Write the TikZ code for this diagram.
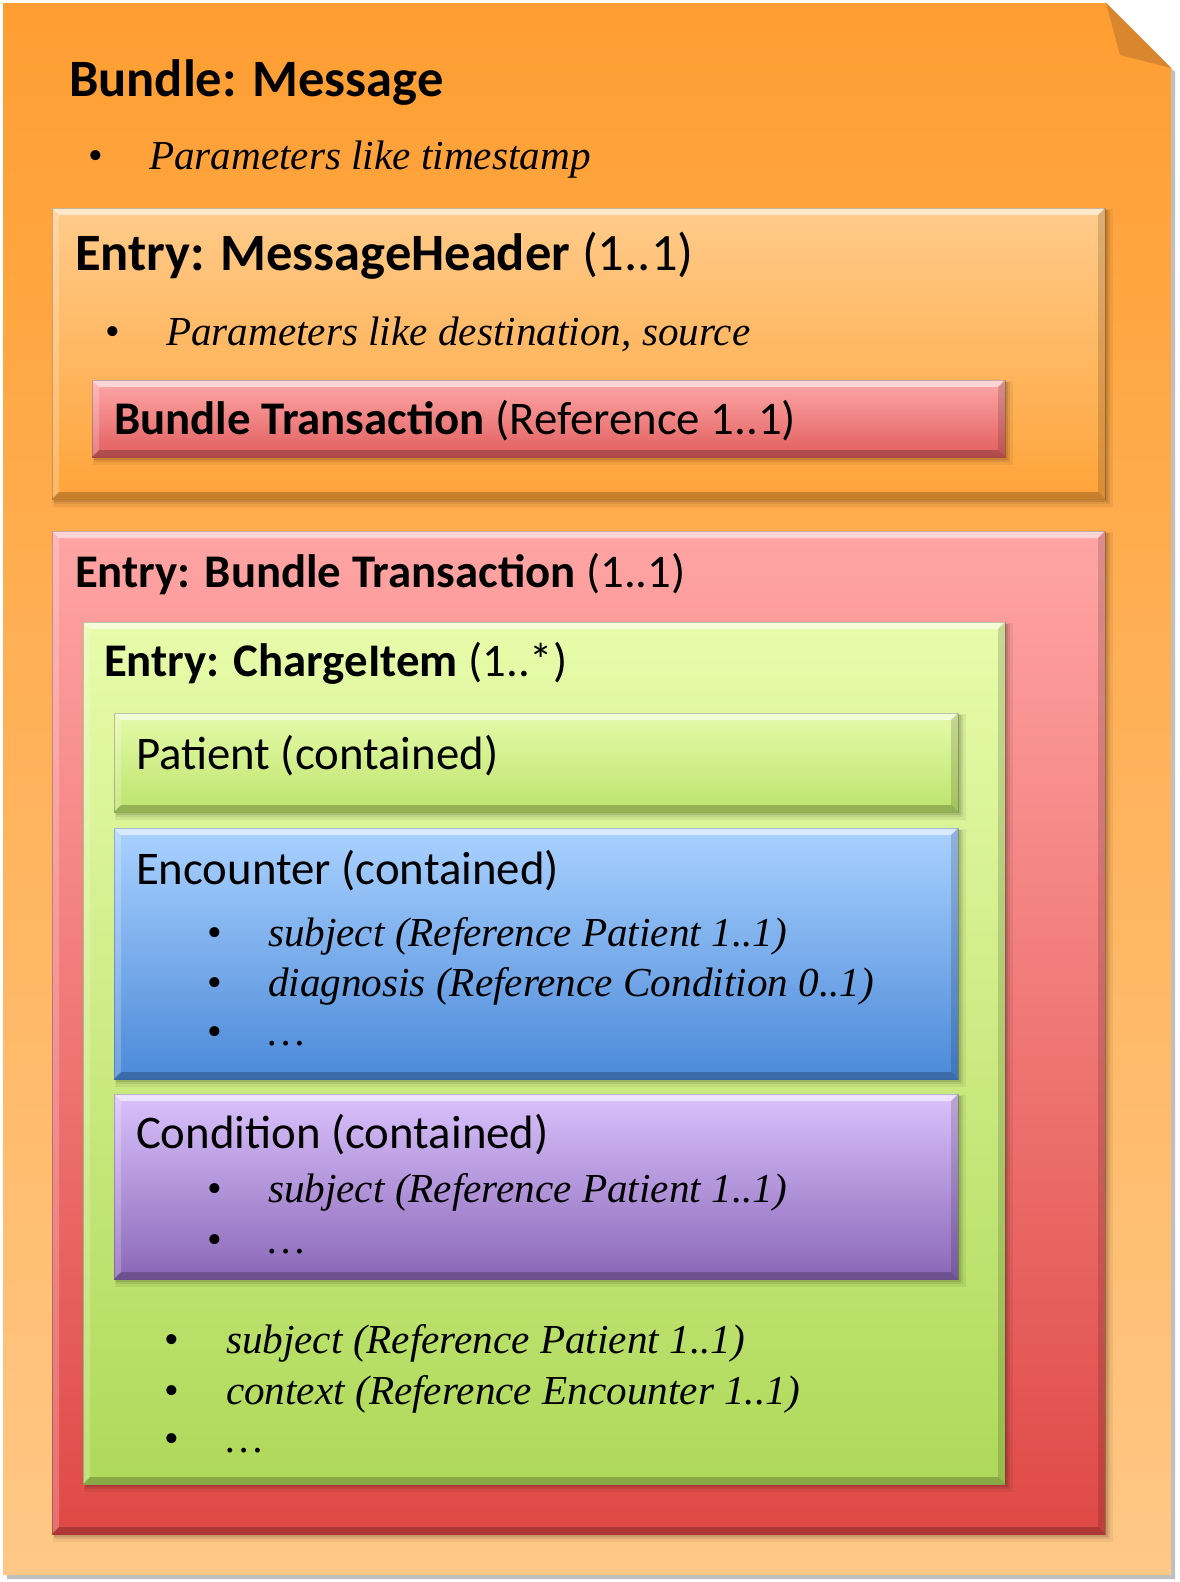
\documentclass[tikz,border=0pt]{standalone}
\usepackage{fontspec}
\setmainfont{Liberation Serif}
\newfontfamily\calfont{Carlito}
\usetikzlibrary{calc}
\newcommand\bigsans{\calfont\fontsize{52.5}{60}\selectfont}
\newcommand\midsans{\calfont\fontsize{46.8}{54}\selectfont}
\newcommand\itser{\fontsize{41.2}{48}\selectfont\itshape}
\newcommand\bulser{\fontsize{42}{48}\selectfont}
% name, x1, y1, x2, y2, top colour (hex), bottom colour (hex)
\newcommand\bevbox[7]{%
  \definecolor{#1top}{HTML}{#6}%
  \definecolor{#1bot}{HTML}{#7}%
  \fill[black,opacity=0.06] (#2+1,-#3-1) rectangle (#4+8,-#5-8);
  \fill[black,opacity=0.08] (#2+2,-#3-2) rectangle (#4+5,-#5-5);
  \fill[black,opacity=0.10] (#2+2,-#3-2) rectangle (#4+3,-#5-3);
  \shade[top color=#1top,bottom color=#1bot] (#2,-#3) rectangle (#4,-#5);
  \fill[white,opacity=0.55] (#2,-#3) -- (#4,-#3) -- (#4-7,-#3-7) -- (#2+7,-#3-7) -- cycle;
  \fill[white,opacity=0.22] (#2,-#3) -- (#2+7,-#3-7) -- (#2+7,-#5+7) -- (#2,-#5) -- cycle;
  \fill[black,opacity=0.22] (#2,-#5) -- (#2+7,-#5+7) -- (#4-7,-#5+7) -- (#4,-#5) -- cycle;
  \fill[black,opacity=0.14] (#4,-#3) -- (#4-7,-#3-7) -- (#4-7,-#5+7) -- (#4,-#5) -- cycle;
  \draw[black,opacity=0.22,line width=1] (#2,-#3) rectangle (#4,-#5);
  \coordinate (#1) at (#2,-#3);
}
\definecolor{noteTop}{HTML}{FF9E32}
\definecolor{noteBot}{HTML}{FFC886}
\definecolor{foldC}{HTML}{D9872E}
\tikzset{
  tx/.style={anchor=base west,inner sep=0pt,outer sep=0pt,text=black},
}
\begin{document}
\begin{tikzpicture}[x=1pt,y=1pt]
\useasboundingbox (0,0) rectangle (1179,-1582);
\fill[white] (0,0) rectangle (1179,-1582);
% outer note
\fill[black!25] (7,-7) -- (1109,-7) -- (1175,-72) -- (1175,-1579) -- (7,-1579) -- cycle;
\shade[top color=noteTop,bottom color=noteBot] (3,-3) -- (1106,-3) -- (1171,-68) -- (1171,-1575) -- (3,-1575) -- cycle;
\fill[foldC] (1106,-3) -- (1120,-55) -- (1171,-68) -- cycle;
\coordinate (note) at (3,-3);

\node[tx] (title) at (69,-96) {\bigsans\bfseries Bundle: Message};
\node[tx] (b0) at (88,-169) {\bulser •};
\node[tx] (p0) at (149,-169) {\itser Parameters like timestamp};

% MessageHeader entry
\bevbox{mh}{52}{208}{1105}{499}{FFCB8A}{FFA43A}
\node[tx] (mhT) at (75,-270) {\bigsans\textbf{Entry: MessageHeader} (1..1)};
\node[tx] (b1) at (105,-345) {\bulser •};
\node[tx] (p1) at (166,-345) {\itser Parameters like destination, source};
\bevbox{btr}{92}{380}{1005}{457}{FFA8A8}{E25E5E}
\node[tx] (btrT) at (114,-434) {\midsans\textbf{Bundle Transaction} (Reference 1..1)};

% Bundle transaction entry
\bevbox{bt}{52}{531}{1105}{1534}{FFA5A4}{DF4946}
\node[tx] (btT) at (75,-587) {\midsans\textbf{Entry: Bundle Transaction} (1..1)};

% ChargeItem
\bevbox{ci}{83}{622}{1005}{1484}{E7FCAA}{AFD95A}
\node[tx] (ciT) at (104,-676) {\midsans\textbf{Entry: ChargeItem} (1..*)};

% Patient
\bevbox{pa}{114}{713}{958}{812}{E5FBAA}{BDE36C}
\node[tx] (paT) at (136,-769) {\midsans Patient (contained)};

% Encounter
\bevbox{en}{114}{828}{958}{1079}{AAD2FF}{4B89D8}
\node[tx] (enT) at (136,-884) {\midsans Encounter (contained)};
\node[tx] (eb1) at (207,-946) {\bulser •};
\node[tx] (et1) at (268,-946) {\itser subject (Reference Patient 1..1)};
\node[tx] (eb2) at (207,-996) {\bulser •};
\node[tx] (et2) at (268,-996) {\itser diagnosis (Reference Condition 0..1)};
\node[tx] (eb3) at (207,-1045) {\bulser •};
\node[tx] (et3) at (268,-1045) {\itser …};

% Condition
\bevbox{co}{114}{1094}{958}{1279}{DAC2FD}{8A67B7}
\node[tx] (coT) at (136,-1148) {\midsans Condition (contained)};
\node[tx] (cb1) at (207,-1202) {\bulser •};
\node[tx] (ct1) at (268,-1202) {\itser subject (Reference Patient 1..1)};
\node[tx] (cb2) at (207,-1253) {\bulser •};
\node[tx] (ct2) at (268,-1253) {\itser …};

% ChargeItem list
\node[tx] (ib1) at (164,-1353) {\bulser •};
\node[tx] (it1) at (226,-1353) {\itser subject (Reference Patient 1..1)};
\node[tx] (ib2) at (164,-1404) {\bulser •};
\node[tx] (it2) at (226,-1404) {\itser context (Reference Encounter 1..1)};
\node[tx] (ib3) at (164,-1452) {\bulser •};
\node[tx] (it3) at (226,-1452) {\itser …};
\end{tikzpicture}
\end{document}
